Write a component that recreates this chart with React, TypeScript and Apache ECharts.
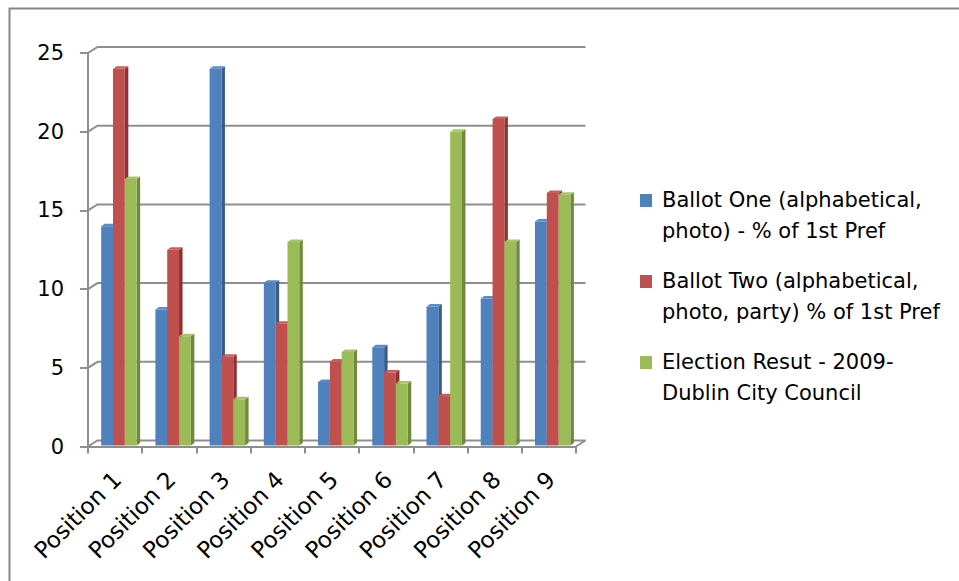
import React, { useEffect, useRef } from "react";
import * as echarts from "echarts";

// Category labels along the floor of the 3-D column chart
const categories = [
  "Position 1",
  "Position 2",
  "Position 3",
  "Position 4",
  "Position 5",
  "Position 6",
  "Position 7",
  "Position 8",
  "Position 9",
];

// % of first preferences per ballot position
const ballotOne = [14, 8.7, 24, 10.4, 4.1, 6.3, 8.9, 9.4, 14.3];
const ballotTwo = [24, 12.5, 5.7, 7.8, 5.4, 4.7, 3.2, 20.8, 16.1];
const electionResult = [17, 7, 3, 13, 6, 4, 20, 13, 16];

// Value-axis ticks
const yTicks = [0, 5, 10, 15, 20, 25];

// Legend entries, wrapped the way they are printed
const legendLines = [
  ["Ballot One (alphabetical,", "photo) - % of 1st Pref"],
  ["Ballot Two (alphabetical,", "photo, party) % of 1st Pref"],
  ["Election Resut - 2009-", "Dublin City Council"],
];

const FONT = "'DejaVu Sans', sans-serif";
const GRID_LINE = "#8e8e8e";

// depth offset of the back wall and of each column's top/side face
const WALL_DX = 9.5;
const WALL_DY = -6;
const BAR_DX = 3.5;
const BAR_DY = -2.5;

const palettes = [
  { front: "#4f81bd", top: "#5d8cc4", side: "#385d8a" },
  { front: "#c0504d", top: "#c85e5b", side: "#8c3331" },
  { front: "#9bbb59", top: "#a8c46b", side: "#6f8a3c" },
];

function barRenderer(seriesIdx: number) {
  const c = palettes[seriesIdx];
  return (_params: any, api: any) => {
    const idx = api.value(0);
    const v = api.value(1);
    const top = api.coord([idx, v]);
    const base = api.coord([idx, 0]);
    const band = api.size([1, 0])[0];
    const w = band * 0.218;
    const x = top[0] - band / 2 + band * 0.243 + seriesIdx * w;
    const y = top[1];
    const y0 = base[1] - 1;
    return {
      type: "group",
      children: [
        {
          type: "polygon",
          shape: {
            points: [
              [x + w, y],
              [x + w + BAR_DX, y + BAR_DY],
              [x + w + BAR_DX, y0 + BAR_DY],
              [x + w, y0],
            ],
          },
          style: { fill: c.side },
        },
        {
          type: "polygon",
          shape: {
            points: [
              [x, y],
              [x + BAR_DX, y + BAR_DY],
              [x + w + BAR_DX, y + BAR_DY],
              [x + w, y],
            ],
          },
          style: { fill: c.top },
        },
        {
          type: "rect",
          shape: { x, y, width: w, height: y0 - y },
          style: { fill: c.front },
        },
      ],
    };
  };
}

// Back wall gridlines, the side-wall diagonals and the floor's right edge
function wallRenderer(_params: any, api: any) {
  const v = api.value(1);
  const first = api.coord([0, v]);
  const last = api.coord([categories.length - 1, v]);
  const band = api.size([1, 0])[0];
  const x0 = first[0] - band / 2;
  const x1 = last[0] + band / 2;
  const y = first[1];
  const lineStyle = { stroke: GRID_LINE, lineWidth: 2, fill: "none" };
  const children: any[] = [
    {
      type: "polyline",
      shape: {
        points: [
          [x0, y],
          [x0 + WALL_DX, y + WALL_DY],
          [x1 + WALL_DX, y + WALL_DY],
        ],
      },
      style: lineStyle,
    },
  ];
  if (v === 0) {
    children.push({
      type: "line",
      shape: { x1: x1, y1: y, x2: x1 + WALL_DX, y2: y + WALL_DY },
      style: lineStyle,
    });
  }
  return { type: "group", children };
}

export default function App() {
  const ref = useRef<HTMLDivElement>(null);

  useEffect(() => {
    if (!ref.current) return;
    const chart = echarts.init(ref.current, undefined, { renderer: "svg" });

    const series = [ballotOne, ballotTwo, electionResult];
    const names = legendLines.map((l) => l.join(" "));

    const legendGraphics: any[] = [];
    legendLines.forEach((lines, i) => {
      const top = 184.5 + i * 81;
      legendGraphics.push({
        type: "rect",
        shape: { x: 640, y: top + 9.5, width: 12, height: 13 },
        style: { fill: palettes[i].front },
      });
      legendGraphics.push({
        type: "text",
        x: 662,
        y: top,
        style: {
          text: lines.join("\n"),
          font: `21px ${FONT}`,
          fill: "#000",
          lineHeight: 31,
          verticalAlign: "top",
          align: "left",
        },
      });
    });

    chart.setOption({
      animation: false,
      backgroundColor: "#ffffff",
      grid: [
        { left: 88, top: 53, width: 488, height: 393.5 },
        { left: 90, top: 53, width: 488, height: 393.5 },
      ],
      xAxis: [
        {
          type: "category",
          gridIndex: 0,
          data: categories,
          boundaryGap: true,
          axisLine: { show: true, lineStyle: { color: GRID_LINE, width: 2 } },
          axisTick: { show: true, length: 7, interval: 0, lineStyle: { color: GRID_LINE, width: 2 } },
          axisLabel: { show: false },
          splitLine: { show: false },
        },
        {
          type: "category",
          gridIndex: 1,
          data: categories,
          axisLine: { show: false },
          axisTick: { show: false },
          axisLabel: {
            show: true,
            interval: 0,
            rotate: 45,
            margin: 29,
            color: "#000",
            fontFamily: FONT,
            fontSize: 23,
          },
        },
      ],
      yAxis: [
        {
          type: "value",
          gridIndex: 0,
          min: 0,
          max: 25,
          interval: 5,
          axisLine: { show: true, lineStyle: { color: GRID_LINE, width: 2 } },
          axisTick: { show: true, length: 8, lineStyle: { color: GRID_LINE, width: 2 } },
          axisLabel: {
            show: true,
            margin: 24,
            color: "#000",
            fontFamily: FONT,
            fontSize: 21,
          },
          splitLine: { show: false },
        },
        {
          type: "value",
          gridIndex: 1,
          min: 0,
          max: 25,
          interval: 5,
          show: false,
        },
      ],
      series: [
        {
          type: "custom",
          name: "walls",
          xAxisIndex: 0,
          yAxisIndex: 0,
          clip: false,
          silent: true,
          z: 1,
          renderItem: wallRenderer,
          encode: { x: 0, y: 1 },
          data: yTicks.map((v) => [0, v]),
        },
        ...series.map((vals, si) => ({
          type: "custom",
          name: names[si],
          xAxisIndex: 0,
          yAxisIndex: 0,
          clip: false,
          z: 3 + si,
          renderItem: barRenderer(si),
          encode: { x: 0, y: 1 },
          data: vals.map((v, i) => [i, v]),
        })),
      ],
      graphic: [
        {
          type: "rect",
          silent: true,
          shape: { x: 9.5, y: 8.5, width: 1000, height: 1000 },
          style: { fill: "none", stroke: "#878787", lineWidth: 2 },
        },
        ...legendGraphics,
      ],
    });

    return () => chart.dispose();
  }, []);

  return (
    <div
      ref={ref}
      style={{ position: "fixed", left: 0, top: 0, width: 959, height: 581 }}
    />
  );
}
